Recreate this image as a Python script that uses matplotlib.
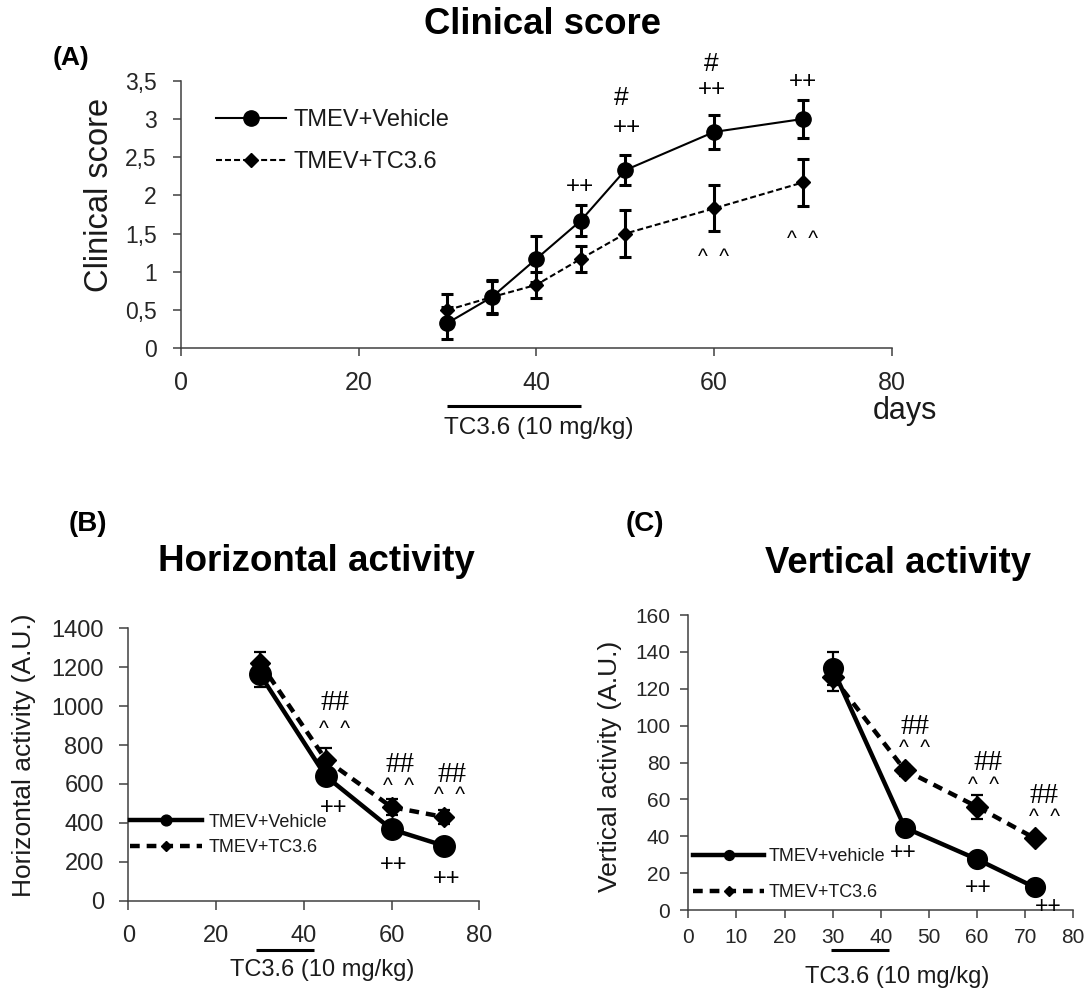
import matplotlib
matplotlib.use("Agg")
import matplotlib.pyplot as plt

plt.rcParams["font.family"] = ["Liberation Sans", "DejaVu Sans"]
plt.rcParams["lines.scale_dashes"] = False

W, H = 1087, 996          # output size in pixels (dpi 100)

# ---- (A) clinical score ----
days_a = [30, 35, 40, 45, 50, 60, 70]
veh_a = [0.33, 0.67, 1.17, 1.67, 2.33, 2.83, 3.00]
veh_a_err = [0.21, 0.22, 0.30, 0.20, 0.20, 0.22, 0.25]
tc_a = [0.50, 0.67, 0.83, 1.17, 1.50, 1.83, 2.17]
tc_a_err = [0.21, 0.21, 0.17, 0.17, 0.31, 0.30, 0.31]
yticks_a = [0, 0.5, 1, 1.5, 2, 2.5, 3, 3.5]
ylabels_a = ["0", "0,5", "1", "1,5", "2", "2,5", "3", "3,5"]
xticks_a = [0, 20, 40, 60, 80]
labels_a = ["TMEV+Vehicle", "TMEV+TC3.6"]
# significance marks: (text, day, value)
marks_a = [("++", 44.9, 2.14), ("#", 49.5, 3.31), ("++", 50.2, 2.91),
           ("#", 59.7, 3.75), ("++", 59.7, 3.41), ("++", 70.0, 3.51),
           ("^  ^", 59.9, 1.26), ("^  ^", 69.9, 1.50)]
treat_a = [30, 45]

# ---- (B) horizontal activity ----
days_b = [30, 45, 60, 72]
veh_b = [1164, 640, 367, 282]
veh_b_err = [65, 30, 35, 20]
tc_b = [1224, 725, 481, 430]
tc_b_err = [56, 58, 40, 35]
yticks_b = [0, 200, 400, 600, 800, 1000, 1200, 1400]
xticks_b = [0, 20, 40, 60, 80]
labels_b = ["TMEV+Vehicle", "TMEV+TC3.6"]
marks_b = [("##", 47.1, 1031), ("^  ^", 47.1, 908), ("++", 46.7, 490),
           ("##", 61.9, 712), ("^  ^", 61.5, 618), ("++", 60.5, 195),
           ("##", 73.7, 660), ("^  ^", 73.3, 567), ("++", 72.5, 123)]
treat_b = [29.1, 42.4]

# ---- (C) vertical activity ----
days_c = [30, 45, 60, 72]
veh_c = [131, 44.6, 27.5, 12.3]
veh_c_err = [9, 2, 2, 2]
tc_c = [126.5, 75.9, 56, 38.9]
tc_c_err = [7.5, 3, 6.5, 2]
yticks_c = [0, 20, 40, 60, 80, 100, 120, 140, 160]
xticks_c = [0, 10, 20, 30, 40, 50, 60, 70, 80]
labels_c = ["TMEV+vehicle", "TMEV+TC3.6"]
marks_c = [("##", 47.1, 100.9), ("^  ^", 47.1, 90.7), ("++", 44.7, 32.2),
           ("##", 62.3, 81.3), ("^  ^", 61.4, 70.5), ("++", 60.3, 13.6),
           ("##", 74.0, 63.3), ("^  ^", 74.1, 53.3), ("++", 74.8, 3.3)]
treat_c = [29.7, 41.7]

TREAT_TXT = "TC3.6 (10 mg/kg)"
SPINE = "#404040"
TICKTXT = "#262626"


def rect(x0, y0, x1, y1):
    """pixel box (top-left origin) -> figure fraction rect"""
    return [x0 / W, 1 - y1 / H, (x1 - x0) / W, (y1 - y0) / H]


def style_axes(ax, xfs, yfs, xpad, ypad, tlen):
    for s in ("top", "right"):
        ax.spines[s].set_visible(False)
    for s in ("left", "bottom"):
        ax.spines[s].set_color(SPINE)
        ax.spines[s].set_linewidth(1.1)
    ax.tick_params(axis="x", direction="out", length=tlen, width=1.1,
                   color=SPINE, labelsize=xfs, labelcolor=TICKTXT, pad=xpad)
    ax.tick_params(axis="y", direction="out", length=tlen, width=1.1,
                   color=SPINE, labelsize=yfs, labelcolor=TICKTXT, pad=ypad)


def add_marks(ax, marks, fs_plus, fs_hash, fs_caret, hash_family):
    for txt, x, y in marks:
        if txt.startswith("^"):
            fs, fam, dy = fs_caret, "Liberation Sans", -0.267 * fs_caret
        elif txt.startswith("#"):
            fs, fam, dy = fs_hash, hash_family, -0.1 * fs_hash
        else:
            fs, fam, dy = fs_plus, "Liberation Sans", -0.1 * fs_plus
        ax.annotate(txt, (x, y), xytext=(0, dy), textcoords="offset points",
                    ha="center", va="center", fontsize=fs, family=fam,
                    color="black", annotation_clip=False)


def treatment(ax, span, ybar, xtxt, ytxt, fs):
    tr = ax.get_xaxis_transform()
    ax.plot(span, [ybar, ybar], color="black", lw=2.2, transform=tr,
            clip_on=False, solid_capstyle="butt")
    ax.text(xtxt, ytxt, TREAT_TXT, transform=tr, ha="center", va="center",
            fontsize=fs, color="#1a1a1a")


fig = plt.figure(figsize=(W / 100, H / 100), dpi=100)

# ================= (A) =================
ax = fig.add_axes(rect(180.7, 80.7, 892, 348.3))
eb1 = ax.errorbar(days_a, veh_a, yerr=veh_a_err, color="black", lw=1.5,
                  marker="o", ms=11, elinewidth=2.2, capsize=4.5,
                  capthick=2.2, zorder=3)
eb2 = ax.errorbar(days_a, tc_a, yerr=tc_a_err, color="black", lw=1.5,
                  ls=(0, (4.3, 2.2)), marker="D", ms=7, elinewidth=2.2,
                  capsize=4.5, capthick=2.2, zorder=3)
ax.set_xlim(0, 80)
ax.set_ylim(0, 3.5)
ax.set_xticks(xticks_a)
ax.set_yticks(yticks_a)
ax.set_yticklabels(ylabels_a)
style_axes(ax, 18, 16.5, 10.5, 11.5, 5.8)
ax.set_ylabel("Clinical score", fontsize=23.5, color="#1a1a1a", va="center")
ax.yaxis.set_label_coords(-0.114, 0.573)
ax.legend([eb1[0], eb2[0]], labels_a, loc="center left",
          bbox_to_anchor=(0.05, 0.7735), frameon=False, fontsize=17,
          handlelength=2.94, handletextpad=0.31, labelspacing=0.86,
          borderpad=0, borderaxespad=0, labelcolor="#1a1a1a")
add_marks(ax, marks_a, 17.5, 19, 15, "Liberation Sans")
treatment(ax, treat_a, -0.2145, 40.3, -0.298, 17.6)
ax.text(81.5, -0.236, "days", transform=ax.get_xaxis_transform(),
        ha="center", va="center", fontsize=22, color="#1a1a1a")
fig.text(542.6 / W, 1 - 25 / H, "Clinical score", ha="center", va="center",
         fontsize=26.3, fontweight="bold")
fig.text(71 / W, 1 - 58.3 / H, "(A)", ha="center", va="center",
         fontsize=19, fontweight="bold")

# ================= (B) =================
ax = fig.add_axes(rect(128.3, 628.3, 479.3, 900.7))
eb1 = ax.errorbar(days_b, veh_b, yerr=veh_b_err, color="black", lw=3.2,
                  marker="o", ms=15.5, elinewidth=1.6, capsize=4.2,
                  capthick=1.6, zorder=3)
eb2 = ax.errorbar(days_b, tc_b, yerr=tc_b_err, color="black", lw=3.2,
                  ls=(0, (7, 5)), marker="D", ms=10.2, elinewidth=1.6,
                  capsize=4.2, capthick=1.6, zorder=3)
ax.set_xlim(0, 80)
ax.set_ylim(0, 1400)
ax.set_xticks(xticks_b)
ax.set_yticks(yticks_b)
style_axes(ax, 17, 17, 10.5, 10.8, 6.8)
ax.set_ylabel("Horizontal activity (A.U.)", fontsize=19, color="#1a1a1a",
              va="center")
ax.yaxis.set_label_coords(-0.296, 0.535)
ax.legend([eb1[0], eb2[0]], labels_b, loc="center left",
          bbox_to_anchor=(0.005, 0.241), frameon=False, fontsize=13,
          handlelength=3.98, handletextpad=0.37, labelspacing=0.48,
          borderpad=0, borderaxespad=0, markerscale=0.5,
          labelcolor="#1a1a1a")
add_marks(ax, marks_b, 17, 21, 15, "Liberation Serif")
treatment(ax, treat_b, -0.181, 44.2, -0.254, 17)
fig.text(316.5 / W, 1 - 561.7 / H, "Horizontal activity", ha="center",
         va="center", fontsize=26.5, fontweight="bold")
fig.text(88 / W, 1 - 524 / H, "(B)", ha="center", va="center",
         fontsize=20, fontweight="bold")

# ================= (C) =================
ax = fig.add_axes(rect(688.3, 615, 1073.3, 910))
eb1 = ax.errorbar(days_c, veh_c, yerr=veh_c_err, color="black", lw=3.2,
                  marker="o", ms=14.2, elinewidth=1.6, capsize=4.2,
                  capthick=1.6, zorder=3)
eb2 = ax.errorbar(days_c, tc_c, yerr=tc_c_err, color="black", lw=3.2,
                  ls=(0, (7, 5)), marker="D", ms=11, elinewidth=1.6,
                  capsize=4.2, capthick=1.6, zorder=3)
ax.set_xlim(0, 80)
ax.set_ylim(0, 160)
ax.set_xticks(xticks_c)
ax.set_yticks(yticks_c)
style_axes(ax, 15, 15, 7, 7, 6)
ax.set_ylabel("Vertical activity (A.U.)", fontsize=19, color="#1a1a1a",
              va="center")
ax.yaxis.set_label_coords(-0.203, 0.486)
ax.legend([eb1[0], eb2[0]], labels_c, loc="center left",
          bbox_to_anchor=(0.013, 0.12), frameon=False, fontsize=13,
          handlelength=3.9, handletextpad=0.28, labelspacing=1.07,
          borderpad=0, borderaxespad=0, markerscale=0.5,
          labelcolor="#1a1a1a")
add_marks(ax, marks_c, 16.5, 21, 15, "Liberation Serif")
treatment(ax, treat_c, -0.1356, 43.4, -0.226, 17)
fig.text(897.7 / W, 1 - 563 / H, "Vertical activity", ha="center",
         va="center", fontsize=26.3, fontweight="bold")
fig.text(644.6 / W, 1 - 524 / H, "(C)", ha="center", va="center",
         fontsize=20, fontweight="bold")

fig.savefig("out.png", dpi=100)
